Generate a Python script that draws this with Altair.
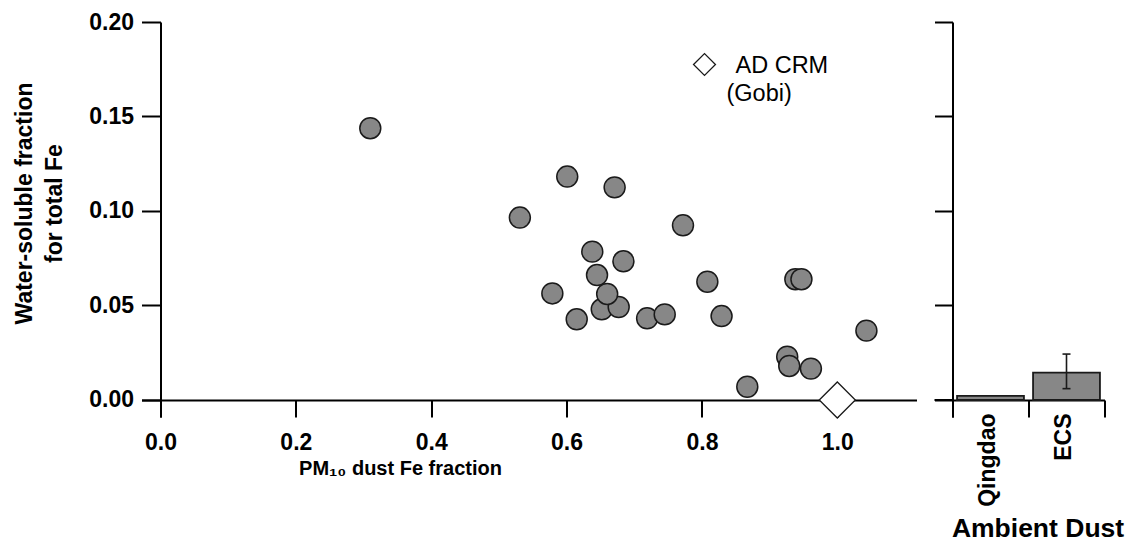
import altair as alt
import pandas as pd

# ---- data ----
pm10_fe = [0.310, 0.531, 0.579, 0.601, 0.615, 0.638, 0.645, 0.652, 0.671, 0.677,
           0.660, 0.684, 0.719, 0.745, 0.772, 0.808, 0.829, 0.867, 0.926, 0.929,
           0.938, 0.947, 0.961, 1.043]
ws_fe = [0.1438, 0.0965, 0.0564, 0.1182, 0.0427, 0.0785, 0.0661, 0.0480, 0.1125, 0.0492,
         0.0561, 0.0734, 0.0432, 0.0453, 0.0924, 0.0626, 0.0444, 0.0070, 0.0229, 0.0180,
         0.0639, 0.0639, 0.0166, 0.0367]
crm_pm10_fe = [1.0]
crm_ws_fe = [0.0]
legend_lines = ["AD CRM", "(Gobi)"]

sites = ["Qingdao", "ECS"]
site_ws_fe = [0.0022, 0.0145]
ecs_low = [0.0060]
ecs_high = [0.0243]

x_ticks = [0.0, 0.2, 0.4, 0.6, 0.8, 1.0]
y_ticks = [0.0, 0.05, 0.10, 0.15, 0.20]

FONT = "Liberation Sans"
GRAY = "#878787"
EDGE = "#1a1a1a"

y_scale = alt.Scale(domain=[-0.009, 0.2], nice=False, zero=False)

# ---------------- left scatter panel ----------------
pts = pd.DataFrame({"pm": pm10_fe, "ws": ws_fe})
crm = pd.DataFrame({"pm": crm_pm10_fe, "ws": crm_ws_fe})

x_axis = alt.Axis(values=x_ticks, format=".1f", offset=-17, tickSize=17,
                  labelPadding=14, grid=False,
                  title="PM₁₀ dust Fe fraction", titleFontSize=20,
                  titleX=258.5, titleY=74, titleAlign="center",
                  titleBaseline="alphabetic", titleAnchor="start")
y_axis = alt.Axis(values=y_ticks, format=".2f", offset=-19, tickSize=19,
                  labelPadding=8, grid=False,
                  title=["Water-soluble fraction", "for total Fe"],
                  titleFontSize=23, titleLineHeight=30, titleAngle=270,
                  titleX=-136.5, titleY=181, titleAlign="center",
                  titleBaseline="middle", titleAnchor="start")

x_enc = alt.X("pm:Q", scale=alt.Scale(domain=[-0.028, 1.117], nice=False, zero=False),
              axis=x_axis)
y_enc = alt.Y("ws:Q", scale=y_scale, axis=y_axis)

scatter = alt.Chart(pts).mark_circle(
    size=440, color=GRAY, opacity=1, stroke=EDGE, strokeWidth=1.5
).encode(x=x_enc, y=y_enc)

crm_pt = alt.Chart(crm).mark_point(
    shape="diamond", size=1300, filled=True, fill="white", stroke=EDGE,
    strokeWidth=1.3, opacity=1
).encode(x="pm:Q", y="ws:Q")

leg_sym = alt.Chart(pd.DataFrame({"t": legend_lines[:1]})).mark_point(
    shape="diamond", size=480, filled=True, fill="white", stroke=EDGE,
    strokeWidth=1.3, opacity=1
).encode(x=alt.value(563), y=alt.value(42.5))

leg_t1 = alt.Chart(pd.DataFrame({"t": legend_lines[:1]})).mark_text(
    align="left", baseline="alphabetic", fontSize=23.5, font=FONT, color="black"
).encode(text="t:N", x=alt.value(594), y=alt.value(51))

leg_t2 = alt.Chart(pd.DataFrame({"t": legend_lines[1:]})).mark_text(
    align="left", baseline="alphabetic", fontSize=23.5, font=FONT, color="black"
).encode(text="t:N", x=alt.value(585), y=alt.value(79))

left = alt.layer(scatter, crm_pt, leg_sym, leg_t1, leg_t2).properties(width=775, height=395)

# ---------------- right bar panel ----------------
bars_df = pd.DataFrame({"site": sites, "ws": site_ws_fe})
err_df = pd.DataFrame({"site": ["ECS"], "lo": ecs_low, "hi": ecs_high})
base_df = pd.DataFrame({"ws": [0.0]})

xb_enc = alt.X("site:N", sort=sites,
               scale=alt.Scale(paddingInner=0, paddingOuter=0),
               axis=alt.Axis(offset=-17, tickSize=17, tickBand="extent",
                             labelAngle=270, labelPadding=-4, labelOffset=-3.5,
                             labelFontSize=23,
                             title="Ambient Dust", titleFontSize=26.5,
                             titleX=85, titleY=136, titleAlign="center",
                             titleBaseline="alphabetic", titleAnchor="start"))
yb_axis = alt.Axis(values=y_ticks, tickSize=18, labels=False, minExtent=0,
                   grid=False, title=None)

bars = alt.Chart(bars_df).mark_bar(
    width=alt.RelativeBandSize(0.88), color=GRAY, stroke=EDGE, strokeWidth=1.8
).encode(x=xb_enc, y=alt.Y("ws:Q", scale=y_scale, axis=yb_axis))

# short stretch of the zero line to the left of the bar panel's y axis
base_ext = alt.Chart(base_df).mark_rule(color="black", strokeWidth=2).encode(
    x=alt.value(-18), x2=alt.value(0), y="ws:Q")

err_rule = alt.Chart(err_df).mark_rule(color=EDGE, strokeWidth=1.6).encode(
    x=alt.X("site:N", sort=sites), y="lo:Q", y2="hi:Q")
cap_lo = alt.Chart(err_df).mark_tick(color=EDGE, size=8, thickness=1.6, opacity=1).encode(
    x=alt.X("site:N", sort=sites), y="lo:Q")
cap_hi = alt.Chart(err_df).mark_tick(color=EDGE, size=8, thickness=1.6, opacity=1).encode(
    x=alt.X("site:N", sort=sites), y="hi:Q")

right = alt.layer(bars, base_ext, err_rule, cap_lo, cap_hi).properties(width=152, height=395)

chart = alt.hconcat(left, right, spacing=17).properties(
    padding={"left": 12.5, "top": 11, "right": 0, "bottom": 0}
).configure_view(stroke=None).configure_axis(
    domainColor="black", domainWidth=2, tickColor="black", tickWidth=2,
    labelFont=FONT, labelFontSize=23, labelFontWeight="bold", labelColor="black",
    titleFont=FONT, titleFontWeight="bold", titleColor="black"
)

chart.save("out.html", embed_options={"renderer": "svg", "actions": False})
